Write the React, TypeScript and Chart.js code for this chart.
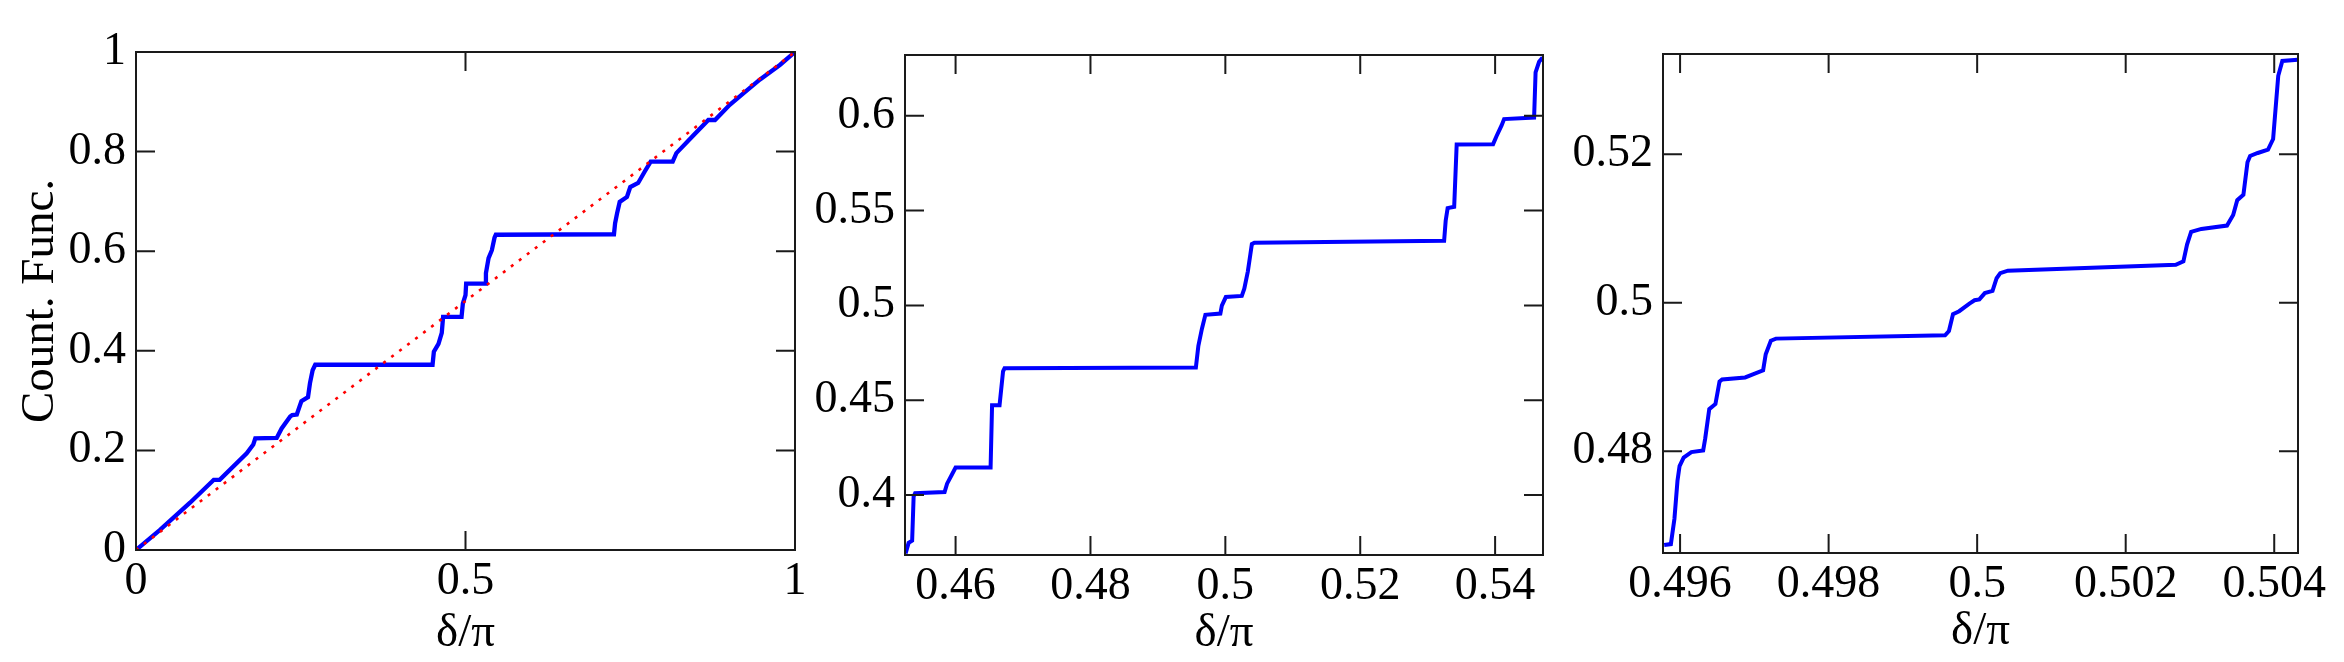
import React, { useEffect, useRef } from "react";
import { Chart, registerables } from "chart.js";

Chart.register(...registerables);

// ---------- data ----------
// Panel 1: full counting function, with the diagonal reference line
const p1X = [0, 0.036, 0.082, 0.115, 0.118, 0.127, 0.168, 0.178, 0.181, 0.2135, 0.221, 0.234, 0.237, 0.244, 0.251, 0.261, 0.264, 0.268, 0.272, 0.45, 0.452, 0.459, 0.464, 0.466, 0.494, 0.496, 0.5, 0.501, 0.53, 0.531, 0.535, 0.54, 0.544, 0.546, 0.7253, 0.727, 0.73, 0.734, 0.745, 0.75, 0.762, 0.772, 0.781, 0.8144, 0.82, 0.846, 0.8685, 0.8786, 0.901, 0.9216, 0.947, 0.977, 1];
const p1Y = [0, 0.04, 0.095, 0.137, 0.141, 0.141, 0.194, 0.212, 0.224, 0.225, 0.244, 0.268, 0.271, 0.272, 0.299, 0.307, 0.335, 0.361, 0.372, 0.372, 0.398, 0.414, 0.436, 0.468, 0.468, 0.495, 0.512, 0.535, 0.535, 0.556, 0.586, 0.602, 0.627, 0.633, 0.634, 0.656, 0.676, 0.699, 0.709, 0.729, 0.737, 0.76, 0.78, 0.78, 0.797, 0.833, 0.8635, 0.8635, 0.894, 0.917, 0.945, 0.974, 1];
const diagX = [0, 1];
const diagY = [0, 1];

// Panel 2: zoom around delta/pi = 0.5
const p2X = [0.45259, 0.45304, 0.45356, 0.45378, 0.454, 0.45837, 0.45874, 0.45948, 0.46, 0.46519, 0.46541, 0.46652, 0.46704, 0.46726, 0.49563, 0.496, 0.49652, 0.49704, 0.49926, 0.49948, 0.50007, 0.50244, 0.50281, 0.50333, 0.5037, 0.50393, 0.5043, 0.53244, 0.53267, 0.53296, 0.53393, 0.5343, 0.5397, 0.54022, 0.54096, 0.54133, 0.54578, 0.546, 0.54652, 0.54704];
const p2Y = [0.3692, 0.3748, 0.376, 0.3993, 0.401, 0.4016, 0.406, 0.411, 0.4145, 0.4145, 0.4474, 0.4474, 0.4652, 0.4668, 0.4672, 0.4787, 0.4876, 0.495, 0.4957, 0.4999, 0.5044, 0.505, 0.5088, 0.5178, 0.5267, 0.5323, 0.533, 0.5341, 0.5446, 0.5513, 0.552, 0.5848, 0.585, 0.5893, 0.5949, 0.5982, 0.599, 0.6228, 0.6284, 0.6306];

// Panel 3: deeper zoom around delta/pi = 0.5
const p3X = [0.495786, 0.495876, 0.495924, 0.495965, 0.495993, 0.496048, 0.496152, 0.496311, 0.496338, 0.496393, 0.496476, 0.496531, 0.496566, 0.496876, 0.49698, 0.497118, 0.497153, 0.497222, 0.497291, 0.499568, 0.49962, 0.499675, 0.499758, 0.499896, 0.499965, 0.50003, 0.500103, 0.500207, 0.500262, 0.500311, 0.500414, 0.502674, 0.502777, 0.502826, 0.502881, 0.503019, 0.503364, 0.503447, 0.503502, 0.503585, 0.50364, 0.503675, 0.503778, 0.503916, 0.503985, 0.504054, 0.504109, 0.504316];
const p3Y = [0.46739, 0.4675, 0.47091, 0.47602, 0.47801, 0.47915, 0.47989, 0.48011, 0.4817, 0.48568, 0.48636, 0.48937, 0.48966, 0.48994, 0.49034, 0.4909, 0.49307, 0.49489, 0.49517, 0.49562, 0.49619, 0.49847, 0.49886, 0.49989, 0.50034, 0.50045, 0.5013, 0.50159, 0.5033, 0.50398, 0.50432, 0.50511, 0.50557, 0.50784, 0.50955, 0.50994, 0.5104, 0.51182, 0.51381, 0.51455, 0.51892, 0.51977, 0.52017, 0.52063, 0.52205, 0.53057, 0.53256, 0.53273];

// axis ranges
const p1XRange = [0, 1];
const p1YRange = [0, 1];
const p2XRange = [0.4525, 0.5471];
const p2YRange = [0.3684, 0.632];
const p3XRange = [0.49577, 0.50432];
const p3YRange = [0.4663, 0.5335];

// ticks & labels
const p1XTicks = [0, 0.5, 1];
const p1XLabels = ["0", "0.5", "1"];
const p1YTicks = [0, 0.2, 0.4, 0.6, 0.8, 1];
const p1YLabels = ["0", "0.2", "0.4", "0.6", "0.8", "1"];
const p2XTicks = [0.46, 0.48, 0.5, 0.52, 0.54];
const p2XLabels = ["0.46", "0.48", "0.5", "0.52", "0.54"];
const p2YTicks = [0.4, 0.45, 0.5, 0.55, 0.6];
const p2YLabels = ["0.4", "0.45", "0.5", "0.55", "0.6"];
const p3XTicks = [0.496, 0.498, 0.5, 0.502, 0.504];
const p3XLabels = ["0.496", "0.498", "0.5", "0.502", "0.504"];
const p3YTicks = [0.48, 0.5, 0.52];
const p3YLabels = ["0.48", "0.5", "0.52"];

const xTitle = "δ/π";
const yTitle = "Count. Func.";

// ---------- layout / styling ----------
const W = 2344;
const H = 662;
const FONT = "'Liberation Serif', 'Times New Roman', Times, serif";
const TICK_LEN = 19;

type Series = { x: number[]; y: number[]; color: string; width: number; dash?: number[] };
type Panel = {
  series: Series[];
  xRange: number[];
  yRange: number[];
  xTicks: number[];
  xLabels: string[];
  yTicks: number[];
  yLabels: string[];
  yTitle?: string;
  area: { left: number; right: number; top: number; bottom: number };
  titleCenter: number;
};

const panels: Panel[] = [
  {
    series: [
      { x: diagX, y: diagY, color: "#ff0000", width: 2.6, dash: [3, 7] },
      { x: p1X, y: p1Y, color: "#0000ff", width: 4.3 },
    ],
    xRange: p1XRange, yRange: p1YRange,
    xTicks: p1XTicks, xLabels: p1XLabels, yTicks: p1YTicks, yLabels: p1YLabels,
    yTitle,
    area: { left: 136, right: 795, top: 52, bottom: 550 },
    titleCenter: 634,
  },
  {
    series: [{ x: p2X, y: p2Y, color: "#0000ff", width: 4 }],
    xRange: p2XRange, yRange: p2YRange,
    xTicks: p2XTicks, xLabels: p2XLabels, yTicks: p2YTicks, yLabels: p2YLabels,
    area: { left: 905, right: 1543, top: 55, bottom: 555 },
    titleCenter: 634,
  },
  {
    series: [{ x: p3X, y: p3Y, color: "#0000ff", width: 4 }],
    xRange: p3XRange, yRange: p3YRange,
    xTicks: p3XTicks, xLabels: p3XLabels, yTicks: p3YTicks, yLabels: p3YLabels,
    area: { left: 1663, right: 2298, top: 54, bottom: 553 },
    titleCenter: 632,
  },
];

const framePlugin = {
  id: "frameTicks",
  afterDatasetsDraw(chart: any) {
    const { ctx, chartArea: a, scales } = chart;
    ctx.save();
    ctx.strokeStyle = "#1a1a1a";
    ctx.lineWidth = 2;
    ctx.lineCap = "butt";
    ctx.beginPath();
    scales.x.ticks.forEach((t: any) => {
      const px = scales.x.getPixelForValue(t.value);
      if (px - a.left < 2 || a.right - px < 2) return;
      ctx.moveTo(px, a.bottom);
      ctx.lineTo(px, a.bottom - TICK_LEN);
      ctx.moveTo(px, a.top);
      ctx.lineTo(px, a.top + TICK_LEN);
    });
    scales.y.ticks.forEach((t: any) => {
      const py = scales.y.getPixelForValue(t.value);
      if (py - a.top < 2 || a.bottom - py < 2) return;
      ctx.moveTo(a.left, py);
      ctx.lineTo(a.left + TICK_LEN, py);
      ctx.moveTo(a.right, py);
      ctx.lineTo(a.right - TICK_LEN, py);
    });
    ctx.stroke();
    ctx.strokeRect(a.left, a.top, a.right - a.left, a.bottom - a.top);
    ctx.restore();
  },
};

function PanelChart({ panel }: { panel: Panel }) {
  const ref = useRef<HTMLCanvasElement | null>(null);
  useEffect(() => {
    const canvas = ref.current;
    if (!canvas) return;
    const yAxisW = panel.yTitle ? panel.area.left : 120;
    const xAxisH = panel.titleCenter + 23 - panel.area.bottom;
    const padLeft = panel.area.left - yAxisW;
    const padRight = W - panel.area.right;
    const padTop = panel.area.top;
    const padBottom = H - panel.area.bottom - xAxisH;
    const chart = new Chart(canvas, {
      type: "line",
      data: {
        datasets: panel.series.map((s) => ({
          data: s.x.map((xv, i) => ({ x: xv, y: s.y[i] })),
          borderColor: s.color,
          backgroundColor: s.color,
          borderWidth: s.width,
          borderDash: s.dash || [],
          borderCapStyle: "butt",
          borderJoinStyle: "miter",
          pointRadius: 0,
          fill: false,
          tension: 0,
        })),
      },
      options: {
        animation: false,
        responsive: false,
        maintainAspectRatio: false,
        events: [],
        layout: { padding: { left: padLeft, right: padRight, top: padTop, bottom: padBottom } },
        plugins: { legend: { display: false }, tooltip: { enabled: false } },
        scales: {
          x: {
            type: "linear",
            min: panel.xRange[0],
            max: panel.xRange[1],
            afterBuildTicks: (s: any) => {
              s.ticks = panel.xTicks.map((v) => ({ value: v }));
            },
            afterFit: (s: any) => {
              s.height = xAxisH;
            },
            grid: { display: false, drawTicks: false },
            border: { display: false },
            ticks: {
              padding: 4,
              color: "#000",
              font: { family: FONT, size: 46, lineHeight: 1.2 },
              maxRotation: 0,
              autoSkip: false,
              callback: (_v: any, i: number) => panel.xLabels[i],
            },
            title: {
              display: true,
              text: xTitle,
              color: "#000",
              font: { family: FONT, size: 47, lineHeight: 1 },
              padding: 0,
            },
          },
          y: {
            type: "linear",
            min: panel.yRange[0],
            max: panel.yRange[1],
            afterBuildTicks: (s: any) => {
              s.ticks = panel.yTicks.map((v) => ({ value: v }));
            },
            afterFit: (s: any) => {
              s.width = yAxisW;
            },
            grid: { display: false, drawTicks: false },
            border: { display: false },
            ticks: {
              padding: 10,
              color: "#000",
              font: { family: FONT, size: 46, lineHeight: 1.2 },
              autoSkip: false,
              callback: (_v: any, i: number) => panel.yLabels[i],
            },
            title: panel.yTitle
              ? {
                  display: true,
                  text: panel.yTitle,
                  color: "#000",
                  font: { family: FONT, size: 47, lineHeight: 1 },
                  padding: { top: 17, bottom: 0 },
                }
              : { display: false },
          },
        },
      },
      plugins: [framePlugin],
    } as any);
    return () => chart.destroy();
  }, [panel]);
  return (
    <canvas
      ref={ref}
      width={W}
      height={H}
      style={{ position: "absolute", left: 0, top: 0, width: W, height: H }}
    />
  );
}

export default function App() {
  return (
    <div
      style={{
        position: "fixed",
        left: 0,
        top: 0,
        width: W,
        height: H,
        background: "#fff",
        overflow: "hidden",
      }}
    >
      {panels.map((p, i) => (
        <PanelChart key={i} panel={p} />
      ))}
    </div>
  );
}
